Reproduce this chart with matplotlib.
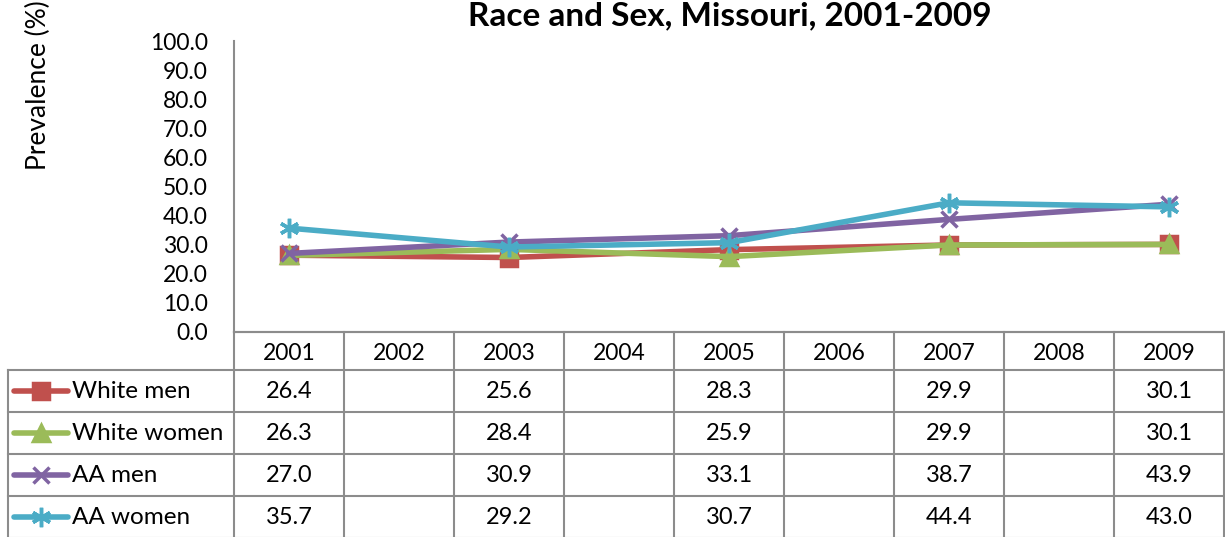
import numpy as np
import matplotlib.pyplot as plt

# dati (anni dispari soltanto, gli altri vuoti)
anni = ["2001", "2002", "2003", "2004", "2005", "2006", "2007", "2008", "2009"]
serie = ["White men", "White women", "AA men", "AA women"]
white_men = [26.4, None, 25.6, None, 28.3, None, 29.9, None, 30.1]
white_women = [26.3, None, 28.4, None, 25.9, None, 29.9, None, 30.1]
aa_men = [27.0, None, 30.9, None, 33.1, None, 38.7, None, 43.9]
aa_women = [35.7, None, 29.2, None, 30.7, None, 44.4, None, 43.0]
yticks = np.arange(0, 101, 10)

valori = [white_men, white_women, aa_men, aa_women]
colori = ["#C0504D", "#9BBB59", "#8064A2", "#4BACC6"]
marker = ["s", "^", "x", (6, 2, 0)]
msize = [12, 12, 12, 14]

plt.rcParams["font.family"] = ["Lato", "DejaVu Sans"]

W, H = 1225, 537
fig = plt.figure(figsize=(W / 100, H / 100), dpi=100)

# geometria in pixel
x0, x1 = 234, 1224
ytop, ybot = 41, 332
righe = [332, 370, 412, 454, 496, 538]
colw = (x1 - x0) / len(anni)
grigio = "#8C8C8C"

ax = fig.add_axes([x0 / W, (H - ybot) / H, (x1 - x0) / W, (ybot - ytop) / H])
xx = np.arange(len(anni))
for v, c, m, s in zip(valori, colori, marker, msize):
    ok = [i for i, a in enumerate(v) if a is not None]
    yy = [v[i] for i in ok]
    ax.plot(ok, yy, color=c, lw=4, marker=m, ms=s, mew=2.5, mfc=c, mec=c,
            solid_joinstyle="round")
ax.set_xlim(-0.5, len(anni) - 0.5)
ax.set_ylim(0, 100)
ax.set_yticks(yticks)
ax.set_yticklabels([f"{t:.1f}" for t in yticks], fontsize=16.5)
ax.set_xticks([])
ax.tick_params(axis="y", length=0, pad=19)
for s in ["top", "right"]:
    ax.spines[s].set_visible(False)
for s in ["left", "bottom"]:
    ax.spines[s].set_color(grigio)
    ax.spines[s].set_linewidth(1.5)
ax.patch.set_alpha(0)

# tabella dati disegnata a mano
tb = fig.add_axes([0, 0, 1, 1], zorder=-1)
tb.set_xlim(0, W)
tb.set_ylim(H, 0)
tb.axis("off")

lw = 1.5
# righe orizzontali
tb.plot([x0, x1], [righe[0], righe[0]], color=grigio, lw=lw)
for r in righe[1:]:
    tb.plot([8, x1], [r, r], color=grigio, lw=lw)
# verticali
tb.plot([8, 8], [righe[1], righe[-1]], color=grigio, lw=lw)
for j in range(len(anni) + 1):
    xc = x0 + j * colw
    tb.plot([xc, xc], [righe[0], righe[-1]], color=grigio, lw=lw)

for j, a in enumerate(anni):
    tb.text(x0 + (j + 0.5) * colw, (righe[0] + righe[1]) / 2 + 2, a,
            ha="center", va="center", fontsize=16.5)

for i, (nome, v, c, m, s) in enumerate(zip(serie, valori, colori, marker, msize)):
    yc = (righe[i + 1] + righe[i + 2]) / 2
    tb.plot([14, 68], [yc, yc], color=c, lw=4, solid_capstyle="round")
    tb.plot([41], [yc], color=c, marker=m, ms=s, mew=2.5, mfc=c, mec=c)
    tb.text(72, yc + 1, nome, ha="left", va="center", fontsize=17.5)
    for j, a in enumerate(v):
        if a is None:
            continue
        tb.text(x0 + (j + 0.5) * colw, yc + 1, f"{a:.1f}",
                ha="center", va="center", fontsize=17)

fig.text(38 / W, 1 - 85 / H, "Prevalence (%)", rotation=90, ha="center",
         va="center", fontsize=19)
fig.text(730 / W, 1 - 16 / H, "Race and Sex, Missouri, 2001-2009",
         ha="center", va="center", fontsize=24, fontweight="bold")

plt.savefig("out.png", dpi=100)
